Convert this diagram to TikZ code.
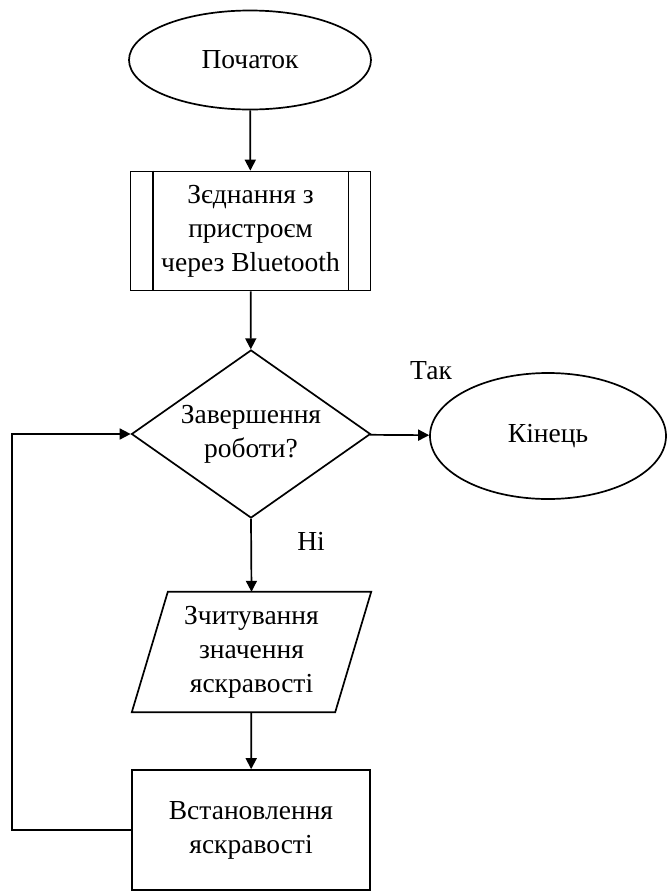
\documentclass[tikz,border=0pt]{standalone}
\usepackage{fontspec}
\setmainfont{Liberation Serif}
\usetikzlibrary{shapes.geometric,arrows.meta}
\begin{document}
\begin{tikzpicture}[x=1pt,y=-1pt,
  every node/.style={font=\fontsize{27.5}{34}\selectfont, align=center, inner sep=0pt},
  box/.style={draw, line width=1.7pt},
  arr/.style={line width=1.7pt, -{Triangle[length=11pt,width=11pt]}},
  ln/.style={line width=1.7pt}]
\useasboundingbox (0,0) rectangle (667,892);
\node[box, ellipse, minimum width=242pt, minimum height=99pt] (start) at (250,60) {Початок};
\node[box, rectangle, minimum width=240pt, minimum height=119pt] (conn) at (250.5,231) {Зєднання з\\пристроєм\\через Bluetooth};
\draw[ln] ([xshift=23pt]conn.north west) -- ([xshift=23pt]conn.south west);
\draw[ln] ([xshift=-23pt]conn.north east) -- ([xshift=-23pt]conn.south east);
\node[box, diamond, minimum width=239pt, minimum height=168pt, aspect=1.42] (dec) at (251,434) {Завершення\\роботи?};
\node[box, ellipse, minimum width=236pt, minimum height=126pt] (end) at (548,436) {Кінець};
\node[rectangle, minimum width=203pt, minimum height=120pt] (read) at (251.5,652) {Зчитування\\значення\\яскравості};
\draw[ln, line join=miter] ([xshift=-18pt]read.south west) -- ([xshift=-18pt]read.south east) -- ([xshift=18pt]read.north east) -- ([xshift=18pt]read.north west) -- cycle;
\node[box, rectangle, minimum width=238pt, minimum height=120pt] (set) at (251,830) {Встановлення\\яскравості};
\node (yes) at (431,371) {Так};
\node (no) at (311,541) {Ні};
\coordinate (c1) at (12,830);
\coordinate (c2) at (12,434);
\draw[arr] (start) -- (conn);
\draw[arr] (conn) -- (dec);
\draw[arr] (dec) -- (end);
\draw[arr] (dec.south) -- (read.north);
\draw[arr] (read) -- (set);
\draw[arr] (set.west) -- (c1) -- (c2) -- (dec.west);
\end{tikzpicture}
\end{document}
